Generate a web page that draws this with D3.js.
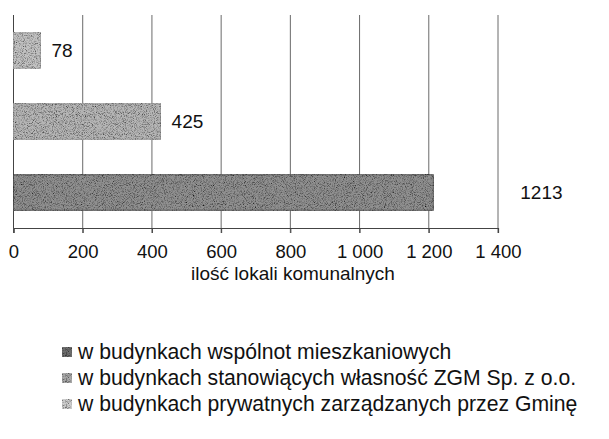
<!DOCTYPE html>
<html>
<head>
<meta charset="utf-8">
<script src="https://cdn.jsdelivr.net/npm/d3@7/dist/d3.min.js"></script>
<style>
  html, body { margin: 0; padding: 0; background: #fff; }
  svg { display: block; font-family: "Liberation Sans", Arial, sans-serif; }
</style>
</head>
<body>
<svg id="chart" width="609" height="439"></svg>
<script>
// ---- data ----
const seriesNames = [
  "w budynkach wspólnot mieszkaniowych",
  "w budynkach stanowiących własność ZGM Sp. z o.o.",
  "w budynkach prywatnych zarządzanych przez Gminę"
];
const seriesValues = [1213, 425, 78];
const xTicks = [0, 200, 400, 600, 800, 1000, 1200, 1400];
const xTickLabels = ["0", "200", "400", "600", "800", "1 000", "1 200", "1 400"];
const axisTitle = "ilość lokali komunalnych";

// ---- style ----
const fills = ["#909090", "#b6b6b6", "#c2c2c2"];
const strokes = ["#555555", "#9a9a9a", "#a8a8a8"];
const legendFills = ["#6e6e6e", "#a9a9a9", "#cdcdcd"];
const labelGap = [87, 11, 11];

const svg = d3.select("#chart");
const m = { left: 13.5, right: 498, top: 15, bottom: 228 };

const x = d3.scaleLinear().domain([0, 1400]).range([m.left, m.right]);
// series drawn bottom to top
const y = d3.scaleBand().domain(d3.range(seriesValues.length))
  .range([m.bottom, m.top]).paddingInner(0.5).paddingOuter(0.25);

// grain texture filter
const defs = svg.append("defs");
const flt = defs.append("filter").attr("id", "grain")
  .attr("x", 0).attr("y", 0).attr("width", 1).attr("height", 1);
flt.append("feTurbulence").attr("type", "fractalNoise")
  .attr("baseFrequency", 1.1).attr("numOctaves", 2).attr("seed", 5).attr("result", "n");
flt.append("feColorMatrix").attr("in", "n").attr("type", "matrix")
  .attr("values", "0 0 0 0 0  0 0 0 0 0  0 0 0 0 0  2.2 0 0 0 -0.95").attr("result", "dots");
flt.append("feComposite").attr("in", "dots").attr("in2", "SourceGraphic")
  .attr("operator", "in").attr("result", "d2");
const mg = flt.append("feMerge");
mg.append("feMergeNode").attr("in", "SourceGraphic");
mg.append("feMergeNode").attr("in", "d2");

// grid lines
svg.append("g").selectAll("line").data(xTicks).join("line")
  .attr("x1", d => x(d)).attr("x2", d => x(d))
  .attr("y1", m.top).attr("y2", m.bottom + 5)
  .attr("stroke", "#6a6a6a").attr("stroke-width", 1);

// axis
const axis = d3.axisBottom(x).tickValues(xTicks)
  .tickFormat((d, i) => xTickLabels[i]).tickSize(5).tickPadding(12);
const ag = svg.append("g").attr("transform", `translate(0,${m.bottom})`).call(axis);
ag.select(".domain").attr("stroke", "#444").attr("stroke-width", 1.2);
ag.selectAll(".tick line").attr("stroke", "#444");
ag.selectAll(".tick text").attr("font-size", 18.5).attr("fill", "#111")
  .attr("font-family", "Liberation Sans, Arial, sans-serif");

// left axis line
svg.append("line").attr("x1", x(0)).attr("x2", x(0))
  .attr("y1", m.top).attr("y2", m.bottom).attr("stroke", "#444");

// bars
svg.append("g").selectAll("rect").data(seriesValues).join("rect")
  .attr("x", x(0)).attr("y", (d, i) => y(i))
  .attr("width", d => x(d) - x(0)).attr("height", y.bandwidth())
  .attr("fill", (d, i) => fills[i]).attr("stroke", (d, i) => strokes[i])
  .attr("stroke-width", 1).attr("filter", "url(#grain)");

// value labels
svg.append("g").selectAll("text").data(seriesValues).join("text")
  .attr("x", (d, i) => x(d) + labelGap[i])
  .attr("y", (d, i) => y(i) + y.bandwidth() / 2)
  .attr("dy", "0.36em").attr("font-size", 19).attr("fill", "#111")
  .text(d => d);

// axis title
svg.append("text").attr("x", 293).attr("y", 280).attr("text-anchor", "middle")
  .attr("font-size", 19).attr("fill", "#111").text(axisTitle);

// legend
const lg = svg.append("g");
const rows = lg.selectAll("g").data(seriesNames).join("g")
  .attr("transform", (d, i) => `translate(62,${352 + i * 26})`);
rows.append("rect").attr("x", 0).attr("y", -5).attr("width", 10).attr("height", 10)
  .attr("fill", (d, i) => legendFills[i]).attr("filter", "url(#grain)");
rows.append("text").attr("x", 16).attr("y", 0).attr("dy", "0.35em")
  .attr("font-size", 21.2).attr("fill", "#111").text(d => d);
</script>
</body>
</html>
